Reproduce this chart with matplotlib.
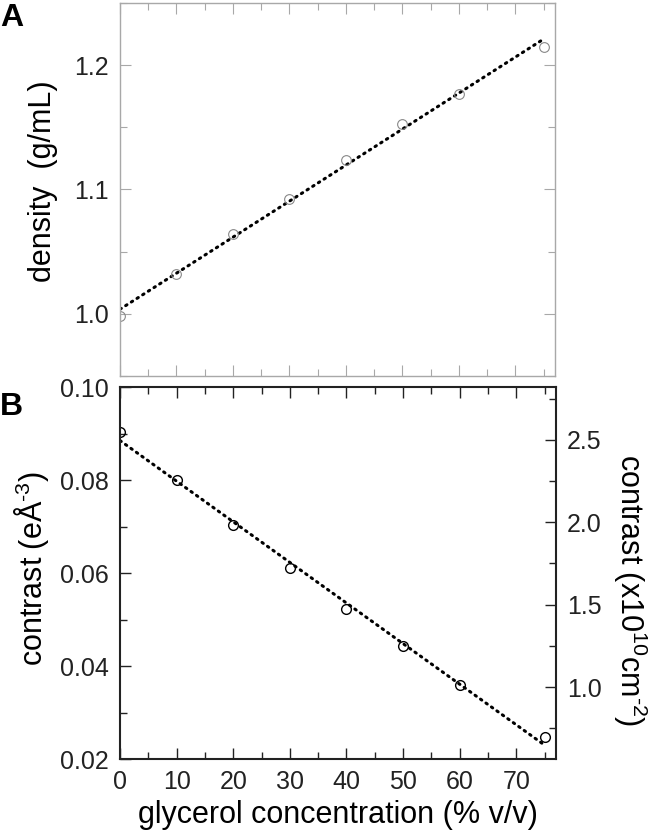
import numpy as np
import matplotlib
matplotlib.use("Agg")
import matplotlib.pyplot as plt
from matplotlib.ticker import MultipleLocator, FormatStrFormatter

plt.rcParams["font.family"] = ["Liberation Sans", "DejaVu Sans"]
plt.rcParams["mathtext.fontset"] = "custom"
plt.rcParams["mathtext.rm"] = "Liberation Sans"
plt.rcParams["mathtext.it"] = "Liberation Sans:italic"

# glycerol concentration (% v/v)
glycerol = [0, 10, 20, 30, 40, 50, 60, 75]
# panel A: density (g/mL)
density = [0.998, 1.032, 1.0645, 1.092, 1.124, 1.153, 1.177, 1.215]
# panel B: contrast (e/A^3)
contrast = [0.0903, 0.0800, 0.0703, 0.0611, 0.0523, 0.0442, 0.0359, 0.0248]
# e/A^3 -> x10^10 cm^-2
to_sld = 28.2

x = np.array(glycerol)
xfit = np.array([0, 75])

fig = plt.figure(figsize=(6.6, 8.38), dpi=100)

ax_a = fig.add_axes([120 / 660, 1 - 376 / 838, 435 / 660, 373 / 838])
ax_b = fig.add_axes([120 / 660, 1 - 759 / 838, 436 / 660, 372 / 838])

gray = "#a8a8a8"
dark = "#222222"
dots = (0, (0.5, 1.7))
hy = "\u2010"

# ---- panel A
p = np.polyfit(x, density, 1)
ax_a.plot(xfit, np.polyval(p, xfit), color="black", lw=2.2,
          linestyle=dots, dash_capstyle="round")
ax_a.plot(x, density, "o", mfc="none", mec="#888888", ms=7, mew=0.8)

ax_a.set_xlim(0, 77)
ax_a.set_ylim(0.95, 1.25)
ax_a.yaxis.set_major_locator(MultipleLocator(0.1))
ax_a.yaxis.set_minor_locator(MultipleLocator(0.05))
ax_a.xaxis.set_major_locator(MultipleLocator(10))
ax_a.xaxis.set_minor_locator(MultipleLocator(5))
ax_a.yaxis.set_major_formatter(FormatStrFormatter("%.1f"))
ax_a.tick_params(which="both", direction="in", top=True, right=True,
                 color=gray, labelbottom=False, labelsize=18, pad=8,
                 labelcolor="#222222")
ax_a.tick_params(which="major", length=8, width=0.8)
ax_a.tick_params(which="minor", length=5, width=0.8)
for s in ax_a.spines.values():
    s.set_color(gray)
    s.set_linewidth(1.0)
ax_a.set_ylabel("density  (g/mL)", fontsize=22, labelpad=11.5)
ax_a.yaxis.label.set_y(0.523)

# ---- panel B
p = np.polyfit(x, contrast, 1)
ax_b.plot(xfit, np.polyval(p, xfit), color="black", lw=2.2,
          linestyle=dots, dash_capstyle="round")
ax_b.plot(x, contrast, "o", mfc="none", mec="black", ms=7, mew=1.0)

ax_b.set_xlim(0, 77)
ax_b.set_ylim(0.02, 0.10)
ax_b.yaxis.set_major_locator(MultipleLocator(0.02))
ax_b.yaxis.set_minor_locator(MultipleLocator(0.01))
ax_b.xaxis.set_major_locator(MultipleLocator(10))
ax_b.xaxis.set_minor_locator(MultipleLocator(5))
ax_b.yaxis.set_major_formatter(FormatStrFormatter("%.2f"))
ax_b.tick_params(which="both", direction="in", top=True, color=dark,
                 labelsize=18, pad=8, labelcolor="#222222")
ax_b.tick_params(which="major", length=8, width=1.0)
ax_b.tick_params(which="minor", length=5, width=1.0)
for s in ax_b.spines.values():
    s.set_color(dark)
    s.set_linewidth(1.5)
ax_b.set_ylabel("contrast (eÅ$^{" + hy + "3}$)", fontsize=22, labelpad=6.5)
ax_b.yaxis.label.set_y(0.513)
ax_b.set_xlabel("glycerol concentration (% v/v)", fontsize=22, labelpad=4)

ax_r = ax_b.twinx()
ax_r.set_ylim(0.02 * to_sld, 0.10 * to_sld)
ax_r.yaxis.set_major_locator(MultipleLocator(0.5))
ax_r.yaxis.set_minor_locator(MultipleLocator(0.25))
ax_r.yaxis.set_major_formatter(FormatStrFormatter("%.1f"))
ax_r.tick_params(which="both", direction="in", color=dark,
                 labelsize=18, pad=8, labelcolor="#222222")
ax_r.tick_params(which="major", length=8, width=1.0)
ax_r.tick_params(which="minor", length=5, width=1.0)
for s in ax_r.spines.values():
    s.set_visible(False)
ax_r.set_ylabel("contrast (x10$^{10}$cm$^{" + hy + "2}$)", fontsize=22,
                rotation=270, labelpad=34)
ax_r.yaxis.label.set_y(0.454)

fig.text(0.0, 1 - 3 / 838, "A", fontsize=23, fontweight="bold", va="top")
fig.text(0.0, 1 - 392 / 838, "B", fontsize=23, fontweight="bold", va="top")

fig.savefig("out.png", dpi=100)
